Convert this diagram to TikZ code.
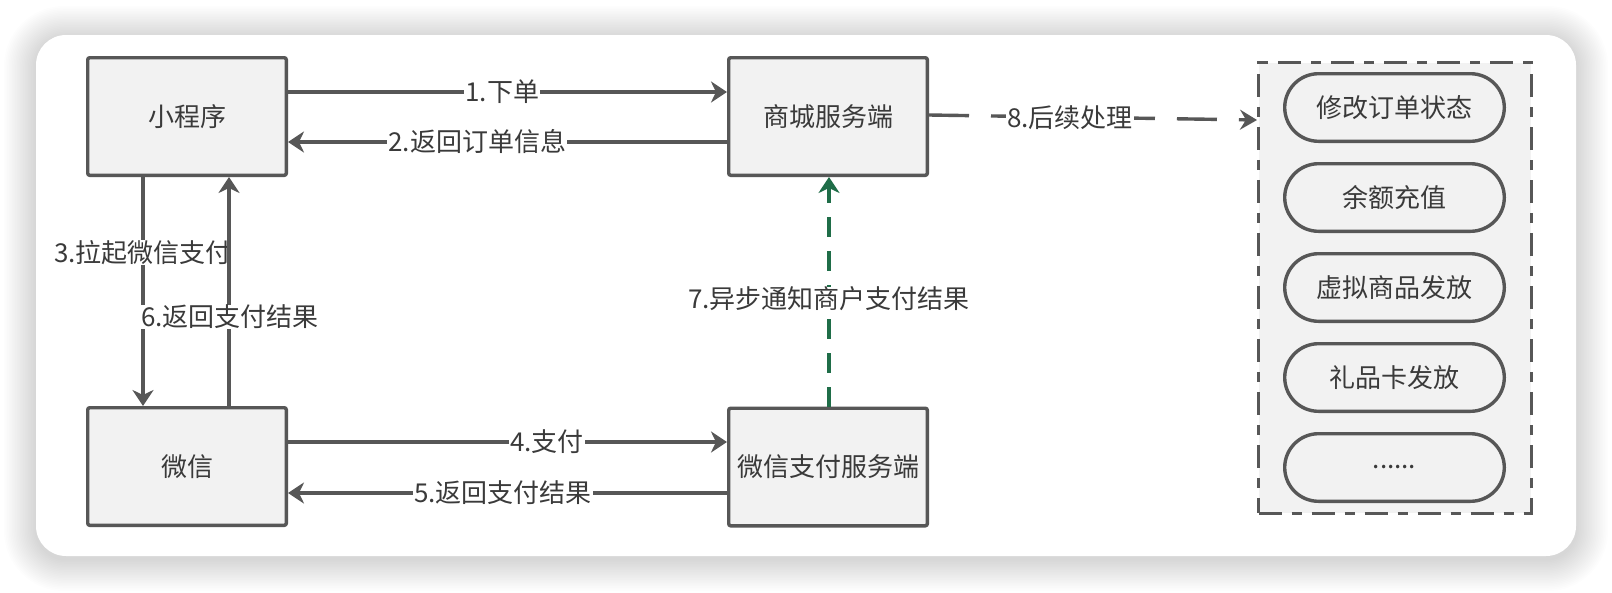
\documentclass[tikz,border=0pt]{standalone}
\usepackage{fontspec}
\newfontfamily\cjk{Noto Sans CJK SC}
\usetikzlibrary{arrows.meta,calc}
\definecolor{ln}{HTML}{575757}
\definecolor{bx}{HTML}{F2F2F2}
\definecolor{tx}{HTML}{3A3A3A}
\definecolor{gn}{RGB}{31,109,72}
\begin{document}
\begin{tikzpicture}[x=1pt,y=-1pt,
 every node/.style={font=\cjk\fontsize{26}{30}\selectfont, text=tx},
 box/.style={draw=ln, fill=bx, line width=3.4pt, minimum width=198.6pt, minimum height=117.6pt, rounded corners=2pt, inner sep=0pt},
 pill/.style={draw=ln, fill=bx, line width=3.4pt, minimum width=219.6pt, minimum height=67.6pt, rounded corners=33.8pt, inner sep=0pt},
 container/.style={draw=ln, fill=bx, line width=3.4pt, minimum width=272.6pt, minimum height=450.6pt, dash pattern=on 23pt off 10pt on 10pt off 10pt, inner sep=0pt},
 arr/.style={draw=ln, line width=3.4pt, -{Stealth[length=16pt,width=21pt,inset=5pt]}},
 garr/.style={draw=gn, line width=3.4pt, dash pattern=on 20pt off 14pt, -{Stealth[length=16pt,width=21pt,inset=5pt]}},
 darr/.style={draw=ln, line width=3.4pt, dash pattern=on 40pt off 22pt, -{Stealth[length=17pt,width=20pt,inset=6pt]}},
 lbl/.style={fill=white, inner xsep=1pt, inner ysep=0pt},
]
\useasboundingbox (0,0) rectangle (1612,592);
\fill[white] (0,0) rectangle (1612,592);
% shadow of the card
\foreach \i in {1,...,20}{
  \fill[black, opacity=0.009, rounded corners={30+\i*1.5}] ({36-\i*1.6},{35-\i*1.6+3}) rectangle ({1576+\i*1.6},{556+\i*1.6+3});
}
\fill[white, rounded corners=30] (36,35) rectangle (1576,556);

% main boxes
\node[box] (A) at (187,116.5) {小程序};
\node[box] (B) at (828,116.5) {商城服务端};
\node[box] (C) at (187,466.5) {微信};
\node[box] (D) at (828,467) {微信支付服务端};

% container and items
\node[container] (E) at (1395,288) {};
\node[pill] (P1) at (1394.5,107.5) {修改订单状态};
\node[pill] (P2) at (1394.5,197.5) {余额充值};
\node[pill] (P3) at (1394.5,287.5) {虚拟商品发放};
\node[pill] (P4) at (1394.5,377.5) {礼品卡发放};
\node[pill] (P5) at (1394.5,467.5) {......};

% connectors
\draw[arr] (A.east |- 0,92) -- (B.west |- 0,92) node[lbl, pos=0.488] {1.下单};
\draw[arr] (B.west |- 0,142) -- (A.east |- 0,142) node[lbl, pos=0.569] {2.返回订单信息};
\draw[arr] (A.south -| 143,0) -- (C.north -| 143,0) node[lbl, pos=0.33] {3.拉起微信支付};
\draw[arr] (C.north -| 229,0) -- (A.south -| 229,0) node[lbl, pos=0.39, xshift=1pt] {6.返回支付结果};
\draw[arr] (C.east |- 0,442) -- (D.west |- 0,442) node[lbl, pos=0.59] {4.支付};
\draw[arr] (D.west |- 0,493) -- (C.east |- 0,493) node[lbl, pos=0.51] {5.返回支付结果};
\draw[garr] (D.north -| 829,0) -- (B.south -| 829,0) node[lbl, pos=0.47] {7.异步通知商户支付结果};
\draw[darr] (B.east |- 0,115) -- (E.west |- 0,120) node[lbl, pos=0.43] {8.后续处理};
\end{tikzpicture}
\end{document}
